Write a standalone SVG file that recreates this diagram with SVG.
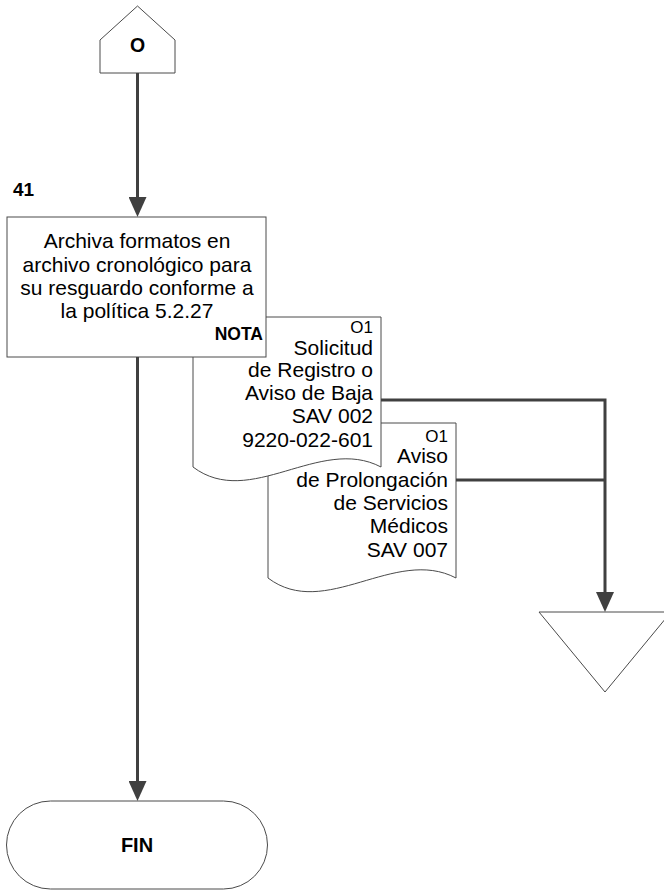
<svg xmlns="http://www.w3.org/2000/svg" width="664" height="891" viewBox="0 0 664 891">
<style>
.shape{fill:#fff;stroke:#4a4a4a;stroke-width:1}
.conn{fill:none;stroke:#404040;stroke-width:3}
.t{font-family:"Liberation Sans",Arial,sans-serif;font-size:21px;fill:#000}
.b{font-family:"Liberation Sans",Arial,sans-serif;font-weight:bold;fill:#000}
.s{font-family:"Liberation Sans",Arial,sans-serif;font-size:17px;fill:#000}
</style>
<defs>
<marker id="arr" viewBox="0 0 20 18" refX="0" refY="9" markerWidth="20" markerHeight="18" markerUnits="userSpaceOnUse" orient="auto">
<path d="M0,0 L20,9 L0,18 z" fill="#404040"/>
</marker>
</defs>
<rect width="664" height="891" fill="#fff"/>
<g id="offpage-O">
<polygon class="shape" points="100,40 137.5,6 175,40 175,73 100,73"/>
<text class="b" x="137.5" y="52" font-size="19.5" text-anchor="middle">O</text>
</g>
<g id="label-41">
<text class="b" x="13" y="196" font-size="19">41</text>
</g>
<g id="doc2">
<path class="shape" d="M268,423 H456 V578 C395,546 325,621 268,578 Z"/>
<text class="s" x="448" y="441.7" text-anchor="end">O1</text>
<text class="t" text-anchor="end"><tspan x="448" y="463.3">Aviso</tspan><tspan x="448" y="486.7">de Prolongación</tspan><tspan x="448" y="510">de Servicios</tspan><tspan x="448" y="533.3">Médicos</tspan><tspan x="448" y="556.7">SAV 007</tspan></text>
</g>
<g id="doc1">
<path class="shape" d="M193,317 H381 V467 C320,435 250,510 193,467 Z"/>
<text class="s" x="373" y="333.3" text-anchor="end">O1</text>
<text class="t" text-anchor="end"><tspan x="373" y="355">Solicitud</tspan><tspan x="373" y="376.7">de Registro o</tspan><tspan x="373" y="400">Aviso de Baja</tspan><tspan x="373" y="423.3">SAV 002</tspan><tspan x="373" y="446.7">9220-022-601</tspan></text>
</g>
<g id="process-41">
<rect class="shape" x="7" y="217" width="259" height="140"/>
<text class="t" text-anchor="middle"><tspan x="137" y="248.3">Archiva formatos en</tspan><tspan x="137" y="271.7">archivo cronológico para</tspan><tspan x="137" y="295">su resguardo conforme a</tspan><tspan x="137" y="318.3">la política 5.2.27</tspan></text>
<text class="b" x="263" y="340" font-size="17.5" text-anchor="end">NOTA</text>
</g>
<g id="archive">
<polygon class="shape" points="539,612 671,612 605,692"/>
</g>
<g id="fin">
<rect class="shape" x="6.5" y="801" width="261" height="88" rx="44" ry="44"/>
<text class="b" x="137" y="851.5" font-size="20" text-anchor="middle">FIN</text>
</g>
<g id="connectors">
<path class="conn" d="M137.5,73 V197" marker-end="url(#arr)"/>
<path class="conn" d="M137.5,357 V781" marker-end="url(#arr)"/>
<path class="conn" d="M381,400 H605 V592" marker-end="url(#arr)"/>
<path class="conn" d="M456,480 H605"/>
</g>
</svg>
